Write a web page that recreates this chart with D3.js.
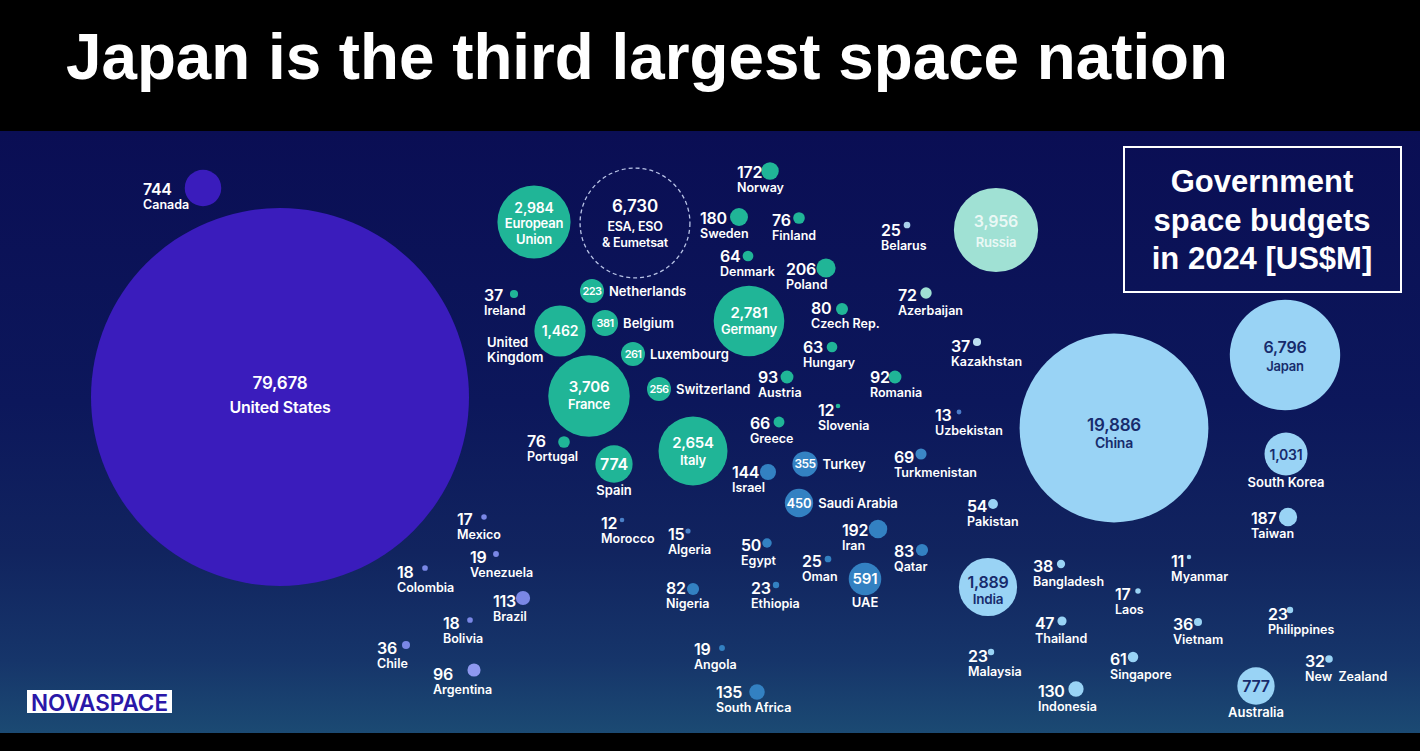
<!DOCTYPE html>
<html>
<head>
<meta charset="UTF-8">
<title>Japan is the third largest space nation</title>
<script src="https://cdn.jsdelivr.net/npm/d3@7"></script>
<style>
  html, body { margin: 0; padding: 0; background: #000; }
  svg { display: block; }
  .lbl { font-family: Inter, "Noto Sans", sans-serif; fill: #fff; font-weight: 600; }
  .head { font-family: "Liberation Sans", Arial, sans-serif; font-weight: bold; fill: #fff; }
</style>
</head>
<body>
<div id="chart"></div>
<script>
// government space budgets 2024, US$M
var countries = ["United States", "Canada", "Mexico", "Venezuela", "Colombia", "Brazil", "Bolivia", "Chile", "Argentina",
  "European Union", "ESA, ESO & Eumetsat", "Norway", "Sweden", "Finland", "Denmark", "Poland", "Netherlands", "Ireland",
  "United Kingdom", "Belgium", "Luxembourg", "Germany", "Czech Rep.", "Hungary", "France", "Switzerland", "Austria",
  "Romania", "Slovenia", "Greece", "Portugal", "Spain", "Italy",
  "Russia", "Belarus", "Azerbaijan", "Kazakhstan", "Uzbekistan", "Turkmenistan",
  "Israel", "Turkey", "Saudi Arabia", "Iran", "Qatar", "UAE", "Oman", "Egypt", "Ethiopia", "Nigeria", "Algeria",
  "Morocco", "Angola", "South Africa",
  "China", "Japan", "South Korea", "Taiwan", "Pakistan", "India", "Bangladesh", "Laos", "Myanmar", "Thailand",
  "Vietnam", "Philippines", "Malaysia", "Singapore", "Indonesia", "Australia", "New Zealand"];

var budgets = [79678, 744, 17, 19, 18, 113, 18, 36, 96,
  2984, 6730, 172, 180, 76, 64, 206, 223, 37,
  1462, 381, 261, 2781, 80, 63, 3706, 256, 93,
  92, 12, 66, 76, 774, 2654,
  3956, 25, 72, 37, 13, 69,
  144, 355, 450, 192, 83, 591, 25, 50, 23, 82, 15,
  12, 19, 135,
  19886, 6796, 1031, 187, 54, 1889, 38, 17, 11, 47,
  36, 23, 23, 61, 130, 777, 32];

var regions = ["North America", "North America", "Latin America", "Latin America", "Latin America", "Latin America", "Latin America", "Latin America", "Latin America",
  "Europe", "Agencies", "Europe", "Europe", "Europe", "Europe", "Europe", "Europe", "Europe",
  "Europe", "Europe", "Europe", "Europe", "Europe", "Europe", "Europe", "Europe", "Europe",
  "Europe", "Europe", "Europe", "Europe", "Europe", "Europe",
  "Russia & CIS", "Russia & CIS", "Russia & CIS", "Russia & CIS", "Russia & CIS", "Russia & CIS",
  "Middle East & Africa", "Middle East & Africa", "Middle East & Africa", "Middle East & Africa", "Middle East & Africa",
  "Middle East & Africa", "Middle East & Africa", "Middle East & Africa", "Middle East & Africa", "Middle East & Africa",
  "Middle East & Africa", "Middle East & Africa", "Middle East & Africa", "Middle East & Africa",
  "Asia-Pacific", "Asia-Pacific", "Asia-Pacific", "Asia-Pacific", "Asia-Pacific", "Asia-Pacific", "Asia-Pacific",
  "Asia-Pacific", "Asia-Pacific", "Asia-Pacific", "Asia-Pacific", "Asia-Pacific", "Asia-Pacific", "Asia-Pacific",
  "Asia-Pacific", "Asia-Pacific", "Asia-Pacific"];

var title = "Japan is the third largest space nation";
var boxLines = ["Government", "space budgets", "in 2024 [US$M]"];

// placement on the reference grid (x 0..1420, y 131..733)
// inner: [text ("v" = value), font size, dy]; lx/ly: outside label; side: name next to bubble
var layout = {
  "United States": {x: 280, y: 397, inner: [["v", 17, -8], ["United States", 16, 16]]},
  "Canada": {x: 203, y: 188, lx: 143, ly: 195},
  "Mexico": {x: 484, y: 517, lx: 457, ly: 525},
  "Venezuela": {x: 496, y: 554, lx: 470, ly: 563},
  "Colombia": {x: 425, y: 568, lx: 397, ly: 578},
  "Brazil": {x: 523, y: 598, lx: 493, ly: 607},
  "Bolivia": {x: 470, y: 620, lx: 443, ly: 629},
  "Chile": {x: 406, y: 645, lx: 377, ly: 654},
  "Argentina": {x: 474, y: 670, lx: 433, ly: 680},
  "European Union": {x: 534, y: 222, inner: [["v", 14, -9], ["European", 13, 6], ["Union", 13, 22]]},
  "ESA, ESO & Eumetsat": {x: 635, y: 223, inner: [["v", 17, -11], ["ESA, ESO", 12.5, 8], ["& Eumetsat", 12.5, 24]]},
  "Norway": {x: 770, y: 171, lx: 737, ly: 178},
  "Sweden": {x: 739, y: 217, lx: 700, ly: 224},
  "Finland": {x: 799, y: 218, lx: 772, ly: 226},
  "Denmark": {x: 748, y: 256, lx: 720, ly: 262},
  "Poland": {x: 826, y: 268, lx: 786, ly: 275},
  "Netherlands": {x: 592, y: 291, inner: [["v", 11, 4]], side: "right"},
  "Ireland": {x: 514, y: 294, lx: 484, ly: 301},
  "United Kingdom": {x: 560, y: 331, inner: [["v", 14, 5]], stack: [["United", 487, 347], ["Kingdom", 487, 362]]},
  "Belgium": {x: 605, y: 323, inner: [["v", 11, 4]], side: "right"},
  "Luxembourg": {x: 633, y: 354, inner: [["v", 11, 4]], side: "right"},
  "Germany": {x: 749, y: 321, inner: [["v", 15, -3], ["Germany", 13, 13]]},
  "Czech Rep.": {x: 842, y: 309, lx: 811, ly: 314},
  "Hungary": {x: 832, y: 347, lx: 803, ly: 353},
  "France": {x: 589, y: 396, inner: [["v", 15, -4], ["France", 13, 13]]},
  "Switzerland": {x: 659, y: 389, inner: [["v", 11, 4]], side: "right"},
  "Austria": {x: 787, y: 377, lx: 758, ly: 383},
  "Romania": {x: 895, y: 377, lx: 870, ly: 383},
  "Slovenia": {x: 838, y: 406, lx: 818, ly: 416},
  "Greece": {x: 779, y: 422, lx: 750, ly: 429},
  "Portugal": {x: 564, y: 442, lx: 527, ly: 447},
  "Spain": {x: 614, y: 464, inner: [["v", 16, 6]], side: "below"},
  "Italy": {x: 693, y: 451, inner: [["v", 15, -3], ["Italy", 13, 14]]},
  "Russia": {x: 996, y: 230, inner: [["v", 16, -3], ["Russia", 13, 17]]},
  "Belarus": {x: 907, y: 225, lx: 881, ly: 236},
  "Azerbaijan": {x: 926, y: 293, lx: 898, ly: 301},
  "Kazakhstan": {x: 977, y: 342, lx: 951, ly: 352},
  "Uzbekistan": {x: 959, y: 412, lx: 935, ly: 421},
  "Turkmenistan": {x: 921, y: 454, lx: 894, ly: 463},
  "Israel": {x: 768, y: 472, lx: 732, ly: 478},
  "Turkey": {x: 805, y: 464, inner: [["v", 12, 4]], side: "right"},
  "Saudi Arabia": {x: 799, y: 503, inner: [["v", 13, 4.5]], side: "right"},
  "Iran": {x: 878, y: 529, lx: 842, ly: 536},
  "Qatar": {x: 922, y: 550, lx: 894, ly: 557},
  "UAE": {x: 865, y: 579, inner: [["v", 15, 5]], side: "below"},
  "Oman": {x: 828, y: 559, lx: 802, ly: 567},
  "Egypt": {x: 767, y: 543, lx: 741, ly: 551},
  "Ethiopia": {x: 776, y: 585, lx: 751, ly: 594},
  "Nigeria": {x: 693, y: 589, lx: 666, ly: 594},
  "Algeria": {x: 688, y: 531, lx: 668, ly: 540},
  "Morocco": {x: 622, y: 520, lx: 601, ly: 529},
  "Angola": {x: 722, y: 648, lx: 694, ly: 655},
  "South Africa": {x: 757, y: 692, lx: 716, ly: 698},
  "China": {x: 1114, y: 428, inner: [["v", 17, 3], ["China", 14, 20]]},
  "Japan": {x: 1285, y: 355, inner: [["v", 16, -2], ["Japan", 13, 16]]},
  "South Korea": {x: 1286, y: 454, inner: [["v", 14, 5.5]], side: "below"},
  "Taiwan": {x: 1288, y: 517, lx: 1251, ly: 524},
  "Pakistan": {x: 993, y: 504, lx: 967, ly: 512},
  "India": {x: 988, y: 587, inner: [["v", 16, 1], ["India", 13.5, 17]]},
  "Bangladesh": {x: 1061, y: 564, lx: 1033, ly: 572},
  "Laos": {x: 1138, y: 591, lx: 1115, ly: 600},
  "Myanmar": {x: 1189, y: 557, lx: 1171, ly: 567},
  "Thailand": {x: 1062, y: 621, lx: 1035, ly: 629},
  "Vietnam": {x: 1198, y: 622, lx: 1173, ly: 630},
  "Philippines": {x: 1290, y: 610, lx: 1268, ly: 620},
  "Malaysia": {x: 991, y: 652, lx: 968, ly: 662},
  "Singapore": {x: 1133, y: 657, lx: 1110, ly: 665},
  "Indonesia": {x: 1076, y: 689, lx: 1038, ly: 697},
  "Australia": {x: 1256, y: 686, inner: [["v", 16, 6]], side: "below"},
  "New Zealand": {x: 1329, y: 659, lx: 1305, ly: 667}
};

var regionColor = {
  "North America": "#3a1cbc",
  "Latin America": "#7a87e6",
  "Europe": "#20b597",
  "Agencies": "none",
  "Russia & CIS": "#a0e1d4",
  "Middle East & Africa": "#3381c2",
  "Asia-Pacific": "#99d3f5"
};
// dots that are tinted differently from their region
var colorTweak = {
  "Argentina": "#8e98ef", "Belarus": "#a9d1ec", "Kazakhstan": "#bddff1",
  "Uzbekistan": "#4c7cc9", "Turkmenistan": "#3b87c6", "Algeria": "#4a80c8", "Morocco": "#4a80c8"
};
var innerInk = {"Asia-Pacific": "#172b6c", "Russia & CIS": "rgba(255,255,255,0.8)"};

var W = 1420, H = 751, plotTop = 131, plotBottom = 733;

var svg = d3.select("#chart").append("svg").attr("width", W).attr("height", H);

var grad = svg.append("defs").append("linearGradient")
  .attr("id", "bg").attr("x1", 0).attr("y1", 0).attr("x2", 0).attr("y2", 1);
[[0, "#0a0e54"], [0.45, "#0c175b"], [0.7, "#11245f"], [0.88, "#16356a"], [1, "#1b4a73"]].forEach(function (s) {
  grad.append("stop").attr("offset", s[0]).attr("stop-color", s[1]);
});

svg.append("rect").attr("width", W).attr("height", H).attr("fill", "#000");
svg.append("rect").attr("x", 0).attr("y", plotTop).attr("width", W).attr("height", plotBottom - plotTop)
  .attr("fill", "url(#bg)");

svg.append("text").attr("class", "head").attr("x", 66).attr("y", 79)
  .attr("font-size", 64)
  .attr("textLength", 1162).attr("lengthAdjust", "spacingAndGlyphs")
  .text(title);

var x = d3.scaleLinear().domain([0, 1420]).range([0, W]);
var y = d3.scaleLinear().domain([131, 733]).range([plotTop, plotBottom]);
var r = d3.scaleSqrt().domain([0, d3.max(budgets)]).range([0, 189]);
var fmt = d3.format(",");

var data = countries.map(function (c, i) {
  var d = Object.assign({name: c, value: budgets[i], region: regions[i]}, layout[c]);
  d.cx = x(d.x); d.cy = y(d.y);
  d.r = r(d.value);
  if (d.side === "right") d.r = Math.max(d.r, 12);
  return d;
});

// bubbles
svg.append("g").selectAll("circle").data(data).join("circle")
  .attr("cx", function (d) { return d.cx; })
  .attr("cy", function (d) { return d.cy; })
  .attr("r", function (d) { return d.r; })
  .attr("fill", function (d) { return colorTweak[d.name] || regionColor[d.region]; })
  .attr("stroke", function (d) { return d.region === "Agencies" ? "#b8c3e6" : null; })
  .attr("stroke-width", 1.3)
  .attr("stroke-dasharray", function (d) { return d.region === "Agencies" ? "4,3" : null; });

var labels = svg.append("g");

data.forEach(function (d) {
  var name = d.name === "New Zealand" ? "New\u2002Zealand" : d.name;
  if (d.inner) {
    d.inner.forEach(function (l) {
      labels.append("text").attr("class", "lbl")
        .attr("x", d.cx).attr("y", d.cy + l[2])
        .attr("text-anchor", "middle")
        .attr("font-size", l[1])
        .attr("letter-spacing", l[1] <= 12 ? -0.6 : -0.2)
        .style("fill", innerInk[d.region] || "#fff")
        .text(l[0] === "v" ? fmt(d.value) : l[0]);
    });
  }
  if (d.lx !== undefined) {
    labels.append("text").attr("class", "lbl")
      .attr("x", x(d.lx)).attr("y", y(d.ly))
      .attr("font-size", 16).attr("letter-spacing", -0.3)
      .text(fmt(d.value));
    labels.append("text").attr("class", "lbl")
      .attr("x", x(d.lx)).attr("y", y(d.ly) + 13.5)
      .attr("font-size", 12.5)
      .text(name);
  }
  if (d.side === "right") {
    labels.append("text").attr("class", "lbl")
      .attr("x", d.cx + d.r + 5).attr("y", d.cy + 4.5)
      .attr("font-size", 13).text(name);
  }
  if (d.side === "below") {
    labels.append("text").attr("class", "lbl")
      .attr("x", d.cx).attr("y", d.cy + d.r + 12)
      .attr("text-anchor", "middle")
      .attr("font-size", 13).text(name);
  }
  if (d.stack) {
    d.stack.forEach(function (s) {
      labels.append("text").attr("class", "lbl")
        .attr("x", x(s[1])).attr("y", y(s[2]))
        .attr("font-size", 13).text(s[0]);
    });
  }
});

// title box
svg.append("rect").attr("x", 1124).attr("y", 147).attr("width", 277).attr("height", 145)
  .attr("fill", "none").attr("stroke", "#fff").attr("stroke-width", 2);
svg.append("g").selectAll("text").data(boxLines).join("text")
  .attr("class", "head")
  .attr("x", 1262)
  .attr("y", function (d, i) { return 192 + i * 38.5; })
  .attr("text-anchor", "middle")
  .attr("font-size", 31)
  .text(function (d) { return d; });

// logo
svg.append("rect").attr("x", 27).attr("y", 690).attr("width", 145).attr("height", 23).attr("fill", "#fff");
svg.append("text").attr("x", 31).attr("y", 710.5)
  .attr("font-family", "Inter, sans-serif").attr("font-weight", 600)
  .attr("font-size", 23).attr("fill", "#2a17a8")
  .attr("textLength", 137).attr("lengthAdjust", "spacingAndGlyphs")
  .text("NOVASPACE");
</script>
</body>
</html>
